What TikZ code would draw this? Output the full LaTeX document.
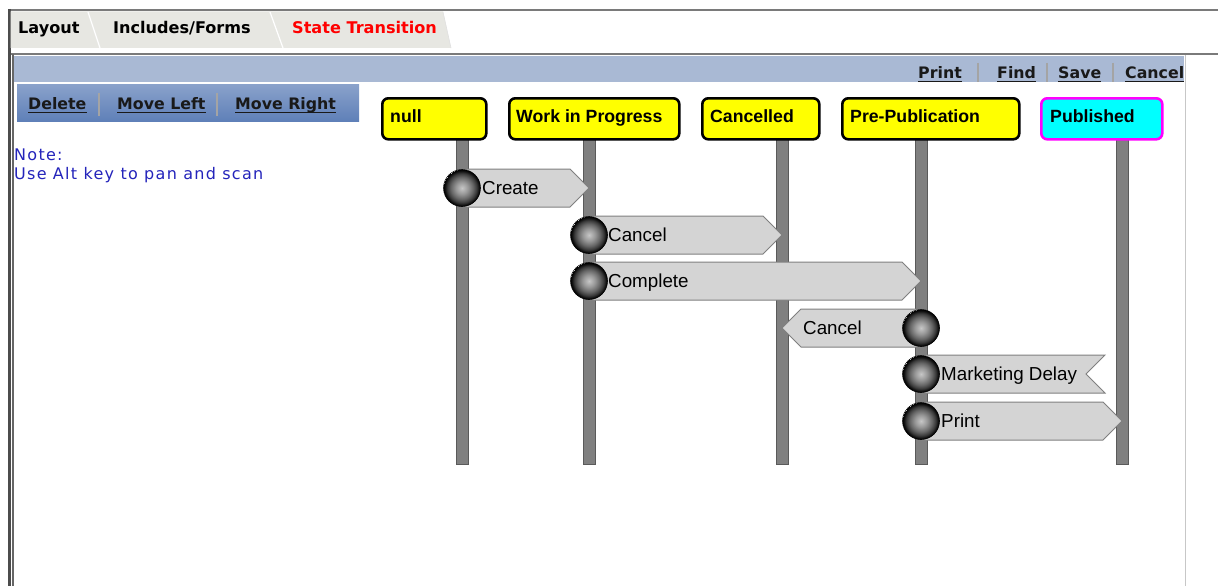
\documentclass[tikz,border=0pt]{standalone}
\usepackage{fontspec}
\setmainfont{Liberation Sans}
\newfontfamily\verd{DejaVu Sans}
\newfontfamily\verdb{DejaVu Sans Bold}
\newfontfamily\verdsp[LetterSpace=8]{DejaVu Sans}
\usetikzlibrary{calc}
\definecolor{tabfill}{HTML}{E7E7E2}
\definecolor{framegray}{HTML}{7A7A7A}
\definecolor{bluebar}{HTML}{A9B9D4}
\definecolor{btntop}{HTML}{8AA2CB}
\definecolor{btnbot}{HTML}{5F80B8}
\definecolor{noteblue}{HTML}{2424BB}
\definecolor{lifegray}{HTML}{808080}
\definecolor{lifeedge}{HTML}{5A5A5A}
\definecolor{flagfill}{HTML}{D4D4D4}
\definecolor{flagedge}{HTML}{808080}
\definecolor{sepgray}{HTML}{A4A4A4}
\definecolor{styellow}{HTML}{FFFF00}
\definecolor{stcyan}{HTML}{00FFFF}
\definecolor{stmagenta}{HTML}{FF00FF}
\definecolor{tabred}{HTML}{FF0000}
\pgfdeclareradialshading{sphere}{\pgfpoint{0bp}{0bp}}{color(0bp)=(black!22); color(8bp)=(black!40); color(15bp)=(black!60); color(20bp)=(black!78); color(23bp)=(black!94); color(25bp)=(black)}
\tikzset{
  tablabel/.style={font=\verdb\fontsize{16.1}{18}\selectfont, inner sep=0, anchor=west, text height=12, text depth=0},
  linklabel/.style={font=\verdb\fontsize{15.8}{18}\selectfont, inner sep=0, anchor=base west, text=black!90},
  notelabel/.style={font=\verdsp\fontsize{16}{18}\selectfont, inner sep=0, anchor=west, text=noteblue, text height=11.5, text depth=0},
  statebox/.style={draw=black, line width=2.6pt, rounded corners=6pt, anchor=north west, minimum height=41pt, inner sep=0},
  statelabel/.style={font=\bfseries\fontsize{17.7}{20}\selectfont, inner sep=0, anchor=west, text height=12.7pt, text depth=0},
  lifeline/.style={fill=lifegray, draw=lifeedge, line width=0.8pt},
  flag/.style={fill=flagfill, draw=flagedge, line width=1pt},
  flaglabel/.style={font=\fontsize{18.8}{21}\selectfont, inner sep=0, anchor=west, text height=13.5pt, text depth=0},
  ball/.style={circle, minimum size=37pt, inner sep=0, shading=sphere, draw=black, line width=0.6pt},
  sepline/.style={draw=sepgray, line width=2pt}
}
\newcommand\linknode[4]{\node[linklabel] (#1) at (#2,#3) {#4};
  \draw[line width=1.3pt, black!90] ($(#1.base west)+(0,3.2)$) -- ($(#1.base east)+(0,3.2)$);}
\begin{document}
\begin{tikzpicture}[x=1pt,y=-1pt]
\useasboundingbox (0,0) rectangle (1218,586);
\fill[white] (0,0) rectangle (1218,586);
% outer frame
\draw[framegray, line width=2.5pt] (8,10) -- (1218,10);
\draw[black!70, line width=3pt] (9,9) -- (9,586);
% tabs
\fill[tabfill] (10.5,11.5) -- (443,11.5) -- (451,48) -- (10.5,48) -- cycle;
\draw[white, line width=1.2pt] (88,12) -- (100,48);
\draw[white, line width=1.2pt] (270,12) -- (283,48);
\draw[black!12, line width=0.6pt] (443,12) -- (451,48);
\node[tablabel] (tLayout) at (18,27.5) {Layout};
\node[tablabel] (tIncl) at (113,27.5) {Includes/Forms};
\node[tablabel, text=tabred] (tState) at (292,27.5) {State Transition};
% inner frame
\draw[framegray, line width=2pt] (11,54) -- (1218,54);
\draw[black!60, line width=1.6pt] (13,54) -- (13,586);
\draw[black!22, line width=1pt] (1185.5,55) -- (1185.5,586);
\fill[bluebar] (14,56) rectangle (1184,82);
% top links
\linknode{lPrint}{918}{78}{Print}
\linknode{lFind}{997}{78}{Find}
\linknode{lSave}{1058}{78}{Save}
\linknode{lCancel}{1125}{78}{Cancel}
\draw[sepline] (978,63) -- (978,82);
\draw[sepline] (1047,63) -- (1047,82);
\draw[sepline] (1113,63) -- (1113,82);
% button bar
\shade[top color=btntop, bottom color=btnbot] (17,84) rectangle (359,121);
\linknode{bDelete}{28}{109.5}{Delete}
\linknode{bLeft}{117}{109.5}{Move Left}
\linknode{bRight}{235}{109.5}{Move Right}
\draw[sepline] (99,93) -- (99,116);
\draw[sepline] (217,93) -- (217,116);
% note
\node[notelabel] (note1) at (14,155) {Note:};
\node[notelabel] (note2) at (14,173.5) {Use Alt key to pan and scan};
% lifelines
\coordinate (Lnull) at (462,0);
\coordinate (Lwip) at (589,0);
\coordinate (Lcan) at (782,0);
\coordinate (Lpp) at (921,0);
\coordinate (Lpub) at (1122,0);
\foreach \L in {Lnull,Lwip,Lcan,Lpp,Lpub}{
  \draw[lifeline] ($(\L)+(-6,136)$) rectangle ($(\L)+(6,464)$);
}
% states
\node[statebox, fill=styellow, minimum width=104pt] (snull) at (381,97) {};
\node[statebox, fill=styellow, minimum width=170pt] (swip) at (508,97) {};
\node[statebox, fill=styellow, minimum width=117pt] (scan) at (701,97) {};
\node[statebox, fill=styellow, minimum width=177pt] (spp) at (841,97) {};
\node[statebox, fill=stcyan, draw=stmagenta, minimum width=121pt] (spub) at (1040,97) {};
\node[statelabel] at ($(snull.west)+(9,-3)$) {null};
\node[statelabel] at ($(swip.west)+(8,-3)$) {Work in Progress};
\node[statelabel] at ($(scan.west)+(9,-3)$) {Cancelled};
\node[statelabel] at ($(spp.west)+(9,-3)$) {Pre-Publication};
\node[statelabel] at ($(spub.west)+(10,-3)$) {Published};
% flags
\draw[flag] (462,169) -- (570,169) -- (589,188) -- (570,207) -- (462,207) -- cycle;
\draw[flag] (589,216) -- (763,216) -- (782,235) -- (763,254) -- (589,254) -- cycle;
\draw[flag] (589,262) -- (902,262) -- (921,281) -- (902,300) -- (589,300) -- cycle;
\draw[flag] (921,309) -- (801,309) -- (782,328) -- (801,347) -- (921,347) -- cycle;
\draw[flag] (921,355) -- (1105,355) -- (1086,374) -- (1105,393) -- (921,393) -- cycle;
\draw[flag] (921,402) -- (1103,402) -- (1122,421) -- (1103,440) -- (921,440) -- cycle;
\node[flaglabel] (fCreate) at (482,188) {Create};
\node[flaglabel] (fCancel1) at (608,235) {Cancel};
\node[flaglabel] (fComplete) at (608,281) {Complete};
\node[flaglabel] (fCancel2) at (803,328) {Cancel};
\node[flaglabel] (fDelay) at (941,374) {Marketing Delay};
\node[flaglabel] (fPrint) at (941,421) {Print};
% balls
\node[ball] (b1) at (462,188) {};
\node[ball] (b2) at (589,235) {};
\node[ball] (b3) at (589,281) {};
\node[ball] (b4) at (921,328) {};
\node[ball] (b5) at (921,374) {};
\node[ball] (b6) at (921,421) {};
\end{tikzpicture}
\end{document}
